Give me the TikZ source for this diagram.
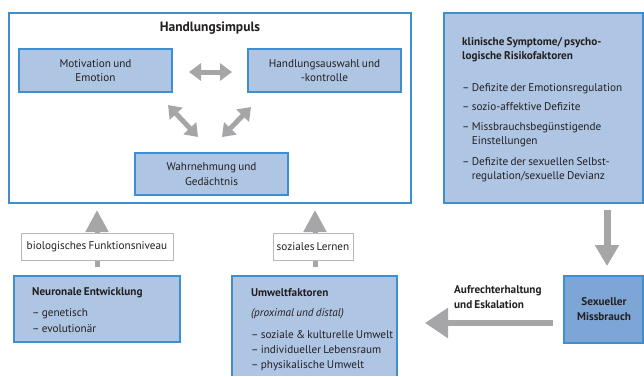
\documentclass[tikz,border=0pt]{standalone}
\usepackage{fontspec}
\setmainfont{PT Sans}[WordSpace=0.75]
\usetikzlibrary{arrows.meta}
\definecolor{bordblue}{RGB}{62,142,208}
\definecolor{lightfill}{RGB}{175,197,228}
\definecolor{darkfill}{RGB}{125,165,214}
\definecolor{arrgray}{RGB}{166,166,168}
\definecolor{txtcol}{RGB}{35,31,32}
\newcommand{\fs}{\fontsize{11.2}{14.5}\selectfont}
\tikzset{
  frame/.style={draw=bordblue, line width=1.6pt},
  bluebox/.style={draw=bordblue, fill=lightfill, line width=1.3pt},
  darkbox/.style={draw=bordblue, fill=darkfill, line width=1.3pt},
  lblbox/.style={draw=arrgray!80, fill=white, line width=0.9pt, inner sep=0pt, font=\fs, text=txtcol},
  txt/.style={inner sep=0pt, font=\fs, text=txtcol},
  btxt/.style={inner sep=0pt, font=\fs\bfseries, text=txtcol},
  ctxt/.style={inner sep=0pt, align=center, font=\fs, text=txtcol},
  dbl/.style={draw=arrgray, line width=5pt, {Triangle[length=12pt,width=17pt]}-{Triangle[length=12pt,width=17pt]}},
  bigarr/.style={draw=arrgray, line width=#1},
}
\newcommand{\tline}[4]{\node[txt, anchor=base west] (#1) at (#2,#3) {#4};}
\begin{document}
\begin{tikzpicture}[x=1pt,y=-1pt]
\useasboundingbox (0,0) rectangle (644,376);
% main frame
\draw[frame] (9,13) rectangle (411,203);
\node[txt, font=\fontsize{13.5}{16}\selectfont\bfseries] (title) at (210,28) {Handlungsimpuls};
% inner boxes
\draw[bluebox] (19,49) rectangle (172,92);
\node[ctxt] (mot) at (95.5,70.5) {Motivation und\\Emotion};
\draw[bluebox] (248,49) rectangle (401,92);
\node[ctxt] (hand) at (324.5,70.5) {Handlungsauswahl und\\-kontrolle};
\draw[bluebox] (135,153) rectangle (288,195);
\node[ctxt] (wahr) at (211.5,174) {Wahrnehmung und\\Gedächtnis};
% double arrows
\coordinate (ha1) at (189,72); \coordinate (ha2) at (232,72);
\draw[dbl] (ha1) -- (ha2);
\coordinate (la1) at (168,105); \coordinate (la2) at (198,137);
\draw[dbl] (la1) -- (la2);
\coordinate (ra1) at (251,107); \coordinate (ra2) at (222,137);
\draw[dbl] (ra1) -- (ra2);
% klinische box
\draw[bluebox] (444,13) rectangle (643,203);
\node[btxt, anchor=base west] (k0) at (462,45.5) {klinische Symptome/ psycho-};
\node[btxt, anchor=base west] (k0b) at (462,59) {logische Risikofaktoren};
\tline{k1}{462}{91.5}{– Defizite der Emotionsregulation}
\tline{k2}{462}{110.5}{– sozio-affektive Defizite}
\tline{k3}{462}{130}{– Missbrauchsbegünstigende}
\tline{k3b}{462}{144.5}{\phantom{– }Einstellungen}
\tline{k4}{462}{165}{– Defizite der sexuellen Selbst-}
\tline{k4b}{462}{179}{\phantom{– }regulation/sexuelle Devianz}
% sexueller missbrauch
\draw[darkbox] (564,276) rectangle (643,343);
\node[ctxt, font=\fs\bfseries] (sex) at (604,309) {Sexueller\\Missbrauch};
% down arrow
\coordinate (d1) at (607,210); \coordinate (d2) at (607,266);
\draw[bigarr=7pt, -{Triangle[length=21pt,width=23pt]}] (d1) -- (d2);
% left arrow
\coordinate (l1) at (553,323); \coordinate (l2) at (425,323);
\draw[bigarr=6pt, -{Triangle[length=23pt,width=29pt]}] (l1) -- (l2);
\node[btxt, anchor=base west] (auf1) at (454,293.5) {Aufrechterhaltung};
\node[btxt, anchor=base west] (auf2) at (454,308) {und Eskalation};
% neuronale
\draw[bluebox] (14,276) rectangle (180,342);
\node[btxt, anchor=base west] (n0) at (32,295.5) {Neuronale Entwicklung};
\tline{n1}{32}{316.5}{– genetisch}
\tline{n2}{32}{332}{– evolutionär}
% umwelt
\fill[lightfill] (232,276) rectangle (397,376);
\draw[draw=bordblue, line width=1.3pt] (232,376) -- (232,276) -- (397,276) -- (397,376);
\node[btxt, anchor=base west] (u0) at (251,296) {Umweltfaktoren};
\node[txt, anchor=base west, font=\fs\itshape] (u1) at (251,316) {(proximal und distal)};
\tline{u2}{251}{338}{– soziale \& kulturelle Umwelt}
\tline{u3}{251}{353}{– individueller Lebensraum}
\tline{u4}{251}{368}{– physikalische Umwelt}
% up arrows with labels
\coordinate (b1) at (97,267); \coordinate (b2) at (97,210);
\draw[bigarr=5pt, -{Triangle[length=22pt,width=22pt]}] (b1) -- (b2);
\node[lblbox, minimum width=152pt, minimum height=27pt] (bio) at (97,246.5) {biologisches Funktionsniveau};
\coordinate (s1) at (315,267); \coordinate (s2) at (315,210);
\draw[bigarr=5pt, -{Triangle[length=22pt,width=22pt]}] (s1) -- (s2);
\node[lblbox, minimum width=80pt, minimum height=27pt] (soz) at (313,246.5) {soziales Lernen};
\end{tikzpicture}
\end{document}
